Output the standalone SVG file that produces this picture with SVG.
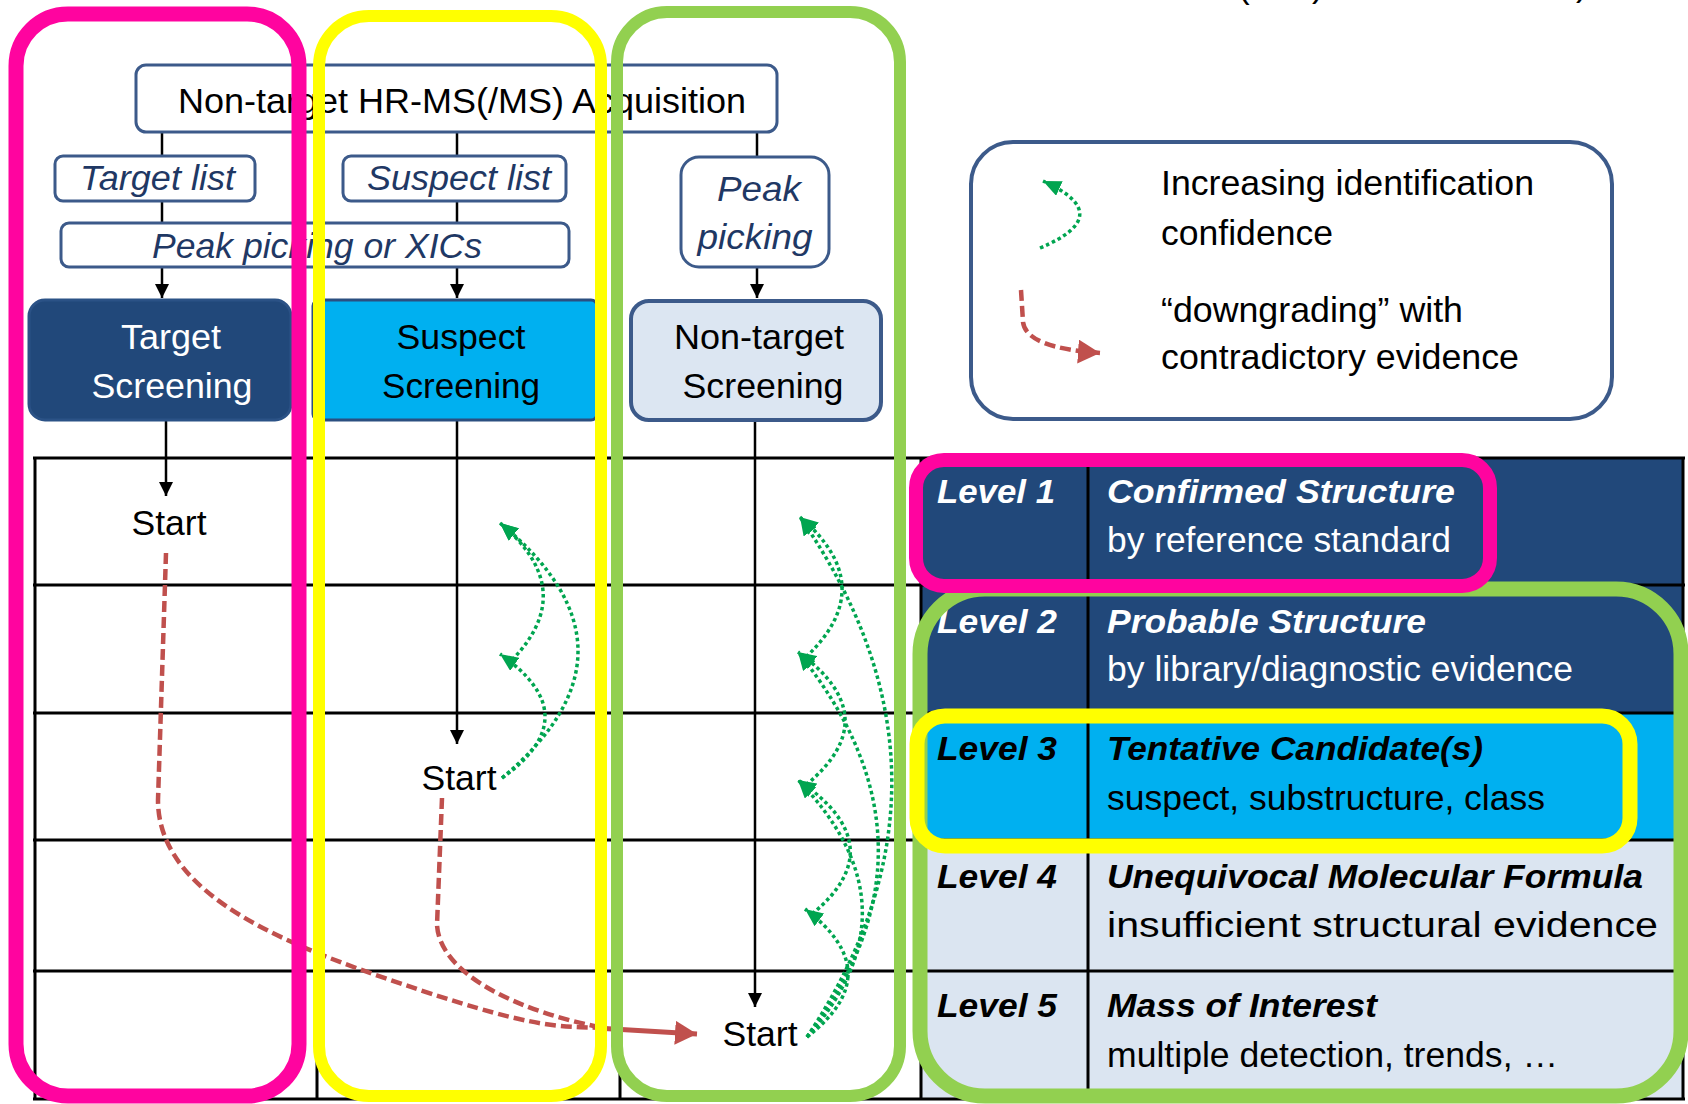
<svg xmlns="http://www.w3.org/2000/svg" width="1688" height="1104" viewBox="0 0 1688 1104">
<defs>
<style>
text { font-family: "Liberation Sans", Arial, Helvetica, sans-serif; font-size: 35px; }
.it { font-style: italic; fill: #1f3864; }
.bi { font-style: italic; font-weight: bold; font-size: 34px; }
.w { fill: #ffffff; }
.k { fill: #000000; }
.box { fill: #ffffff; stroke: #3c5a8a; stroke-width: 3; }
.grid { stroke: #000; stroke-width: 3; fill: none; }
.blk { stroke: #000; stroke-width: 2.5; fill: none; }
.grn { stroke: #00a550; stroke-width: 3.5; stroke-dasharray: 3.5 3; fill: none; }
.red { stroke: #c0504d; stroke-width: 4.5; stroke-dasharray: 11 5; fill: none; }
.hl { fill: none; }
</style>
<marker id="ahK" markerUnits="userSpaceOnUse" markerWidth="14" markerHeight="14" viewBox="0 0 14 14" refX="14" refY="7" orient="auto"><path d="M0,0 L14,7 L0,14 z" fill="#000"/></marker>
<marker id="ahG" markerUnits="userSpaceOnUse" markerWidth="18" markerHeight="16" viewBox="0 0 18 16" refX="18" refY="8" orient="auto"><path d="M0,0 L18,8 L0,16 z" fill="#00a550"/></marker>
<marker id="ahR" markerUnits="userSpaceOnUse" markerWidth="22" markerHeight="24" viewBox="0 0 22 24" refX="22" refY="12" orient="auto"><path d="M0,0 L22,12 L0,24 z" fill="#c0504d"/></marker>
</defs>
<rect x="0" y="0" width="1688" height="1104" fill="#ffffff"/>

<g id="top-cut" class="k">
<text x="1238" y="-2" font-size="40">(</text>
<text x="1312" y="-3" font-size="40">)</text>
<text x="1576" y="-4" font-size="40">)</text>
</g>

<g id="table">
<rect x="921" y="458" width="762" height="255" fill="#21487a"/>
<rect x="921" y="713" width="762" height="127" fill="#00b0f0"/>
<rect x="921" y="840" width="762" height="259" fill="#dbe5f1"/>
<path class="grid" d="M33,458 H1685 M33,585 H1685 M33,713 H1685 M33,840 H1685 M33,971 H1685 M33,1099 H1685 M35,458 V1099 M317,458 V1099 M620,458 V1099 M921,458 V1099 M1088,458 V1099 M1683,458 V1099"/>
</g>

<g id="connectors">
<path class="blk" d="M162,133 V298" marker-end="url(#ahK)"/>
<path class="blk" d="M457,133 V298" marker-end="url(#ahK)"/>
<path class="blk" d="M757,133 V298" marker-end="url(#ahK)"/>
<path class="blk" d="M166,420 V496" marker-end="url(#ahK)"/>
<path class="blk" d="M457,420 V744" marker-end="url(#ahK)"/>
<path class="blk" d="M755,421 V1007" marker-end="url(#ahK)"/>
<path class="grn" d="M502,778 Q655,650 500,523" marker-end="url(#ahG)"/>
<path class="grn" d="M502,778 Q589,716 500,654" marker-end="url(#ahG)"/>
<path class="grn" d="M512,660 Q580,590 500,523" marker-end="url(#ahG)"/>
<path class="grn" d="M807,1037 Q890,973 805,909" marker-end="url(#ahG)"/>
<path class="grn" d="M812,914 Q895,846 798,780" marker-end="url(#ahG)"/>
<path class="grn" d="M806,785 Q888,717 798,652" marker-end="url(#ahG)"/>
<path class="grn" d="M806,657 Q881,586 800,517" marker-end="url(#ahG)"/>
<path class="grn" d="M807,1037 Q980,777 800,517" marker-end="url(#ahG)"/>
<path class="grn" d="M807,1037 Q954,845 798,652" marker-end="url(#ahG)"/>
<path class="grn" d="M807,1037 Q922,908 798,780" marker-end="url(#ahG)"/>
<path class="red" d="M166,553 L158,800 C158,900 300,950 420,990 S560,1026 604,1028"/>
<path class="red" d="M442,798 L437,925 C440,975 520,1012 604,1028"/>
<path d="M596,1028 L697,1034" stroke="#c0504d" stroke-width="5" fill="none" marker-end="url(#ahR)"/>
</g>

<g id="node-acquisition">
<rect x="136" y="65" width="641" height="67" rx="10" class="box" stroke-width="3.5"/>
<text x="178" y="113" class="k" textLength="568" lengthAdjust="spacingAndGlyphs">Non-target HR-MS(/MS) Acquisition</text>
</g>
<g id="node-target-list">
<rect x="55" y="156" width="200" height="45" rx="8" class="box"/>
<text x="80" y="190" class="it" textLength="155" lengthAdjust="spacingAndGlyphs">Target list</text>
</g>
<g id="node-suspect-list">
<rect x="343" y="156" width="223" height="45" rx="8" class="box"/>
<text x="367" y="190" class="it" textLength="184" lengthAdjust="spacingAndGlyphs">Suspect list</text>
</g>
<g id="node-peak-xics">
<rect x="61" y="223" width="508" height="44" rx="8" class="box"/>
<text x="152" y="258" class="it" textLength="330" lengthAdjust="spacingAndGlyphs">Peak picking or XICs</text>
</g>
<g id="node-peak-picking">
<rect x="681" y="157" width="148" height="110" rx="18" class="box" stroke="#5b74a3"/>
<text x="759" y="201" class="it" text-anchor="middle" textLength="84" lengthAdjust="spacingAndGlyphs">Peak</text>
<text x="755" y="249" class="it" text-anchor="middle" textLength="115" lengthAdjust="spacingAndGlyphs">picking</text>
</g>

<g id="node-target-screening">
<rect x="29" y="300" width="262" height="120" rx="16" fill="#21487a" stroke="#2b5286" stroke-width="3"/>
<text x="171" y="349" class="w" text-anchor="middle" textLength="100" lengthAdjust="spacingAndGlyphs">Target</text>
<text x="172" y="398" class="w" text-anchor="middle" textLength="161" lengthAdjust="spacingAndGlyphs">Screening</text>
</g>
<g id="node-suspect-screening">
<rect x="313" y="300" width="284" height="120" rx="6" fill="#00b0f0" stroke="#2b4f80" stroke-width="3"/>
<text x="461" y="349" class="k" text-anchor="middle" textLength="129" lengthAdjust="spacingAndGlyphs">Suspect</text>
<text x="461" y="398" class="k" text-anchor="middle" textLength="158" lengthAdjust="spacingAndGlyphs">Screening</text>
</g>
<g id="node-nontarget-screening">
<rect x="631" y="301" width="250" height="119" rx="18" fill="#dce6f2" stroke="#3c5a8a" stroke-width="4"/>
<text x="759" y="349" class="k" text-anchor="middle" textLength="170" lengthAdjust="spacingAndGlyphs">Non-target</text>
<text x="763" y="398" class="k" text-anchor="middle" textLength="161" lengthAdjust="spacingAndGlyphs">Screening</text>
</g>

<g id="node-start-target"><text x="169" y="535" class="k" text-anchor="middle" textLength="75" lengthAdjust="spacingAndGlyphs">Start</text></g>
<g id="node-start-suspect"><text x="459" y="790" class="k" text-anchor="middle" textLength="75" lengthAdjust="spacingAndGlyphs">Start</text></g>
<g id="node-start-nontarget"><text x="760" y="1046" class="k" text-anchor="middle" textLength="75" lengthAdjust="spacingAndGlyphs">Start</text></g>

<g id="node-legend">
<rect x="971" y="142" width="641" height="277" rx="42" fill="#ffffff" stroke="#3c5a8a" stroke-width="4"/>
<path class="grn" d="M1040,248 Q1118,215 1043,181" marker-end="url(#ahG)"/>
<path class="red" d="M1021,290 L1023,322 Q1026,348 1100,353" marker-end="url(#ahR)"/>
<text x="1161" y="195" class="k" textLength="373" lengthAdjust="spacingAndGlyphs">Increasing identification</text>
<text x="1161" y="245" class="k" textLength="172" lengthAdjust="spacingAndGlyphs">confidence</text>
<text x="1161" y="322" class="k" textLength="302" lengthAdjust="spacingAndGlyphs">“downgrading” with</text>
<text x="1161" y="369" class="k" textLength="358" lengthAdjust="spacingAndGlyphs">contradictory evidence</text>
</g>

<g id="node-level1">
<text x="937" y="503" class="bi w" textLength="118" lengthAdjust="spacingAndGlyphs">Level 1</text>
<text x="1107" y="503" class="bi w" textLength="348" lengthAdjust="spacingAndGlyphs">Confirmed Structure</text>
<text x="1107" y="552" class="w" textLength="344" lengthAdjust="spacingAndGlyphs">by reference standard</text>
</g>
<g id="node-level2">
<text x="937" y="633" class="bi w" textLength="120" lengthAdjust="spacingAndGlyphs">Level 2</text>
<text x="1107" y="633" class="bi w" textLength="319" lengthAdjust="spacingAndGlyphs">Probable Structure</text>
<text x="1107" y="681" class="w" textLength="466" lengthAdjust="spacingAndGlyphs">by library/diagnostic evidence</text>
</g>
<g id="node-level3">
<text x="937" y="760" class="bi k" textLength="120" lengthAdjust="spacingAndGlyphs">Level 3</text>
<text x="1107" y="760" class="bi k" textLength="376" lengthAdjust="spacingAndGlyphs">Tentative Candidate(s)</text>
<text x="1107" y="810" class="k" textLength="438" lengthAdjust="spacingAndGlyphs">suspect, substructure, class</text>
</g>
<g id="node-level4">
<text x="937" y="888" class="bi k" textLength="120" lengthAdjust="spacingAndGlyphs">Level 4</text>
<text x="1107" y="888" class="bi k" textLength="536" lengthAdjust="spacingAndGlyphs">Unequivocal Molecular Formula</text>
<text x="1107" y="937" class="k" font-size="38" textLength="551" lengthAdjust="spacingAndGlyphs">insufficient structural evidence</text>
</g>
<g id="node-level5">
<text x="937" y="1017" class="bi k" textLength="120" lengthAdjust="spacingAndGlyphs">Level 5</text>
<text x="1107" y="1017" class="bi k" textLength="270" lengthAdjust="spacingAndGlyphs">Mass of Interest</text>
<text x="1107" y="1067" class="k" textLength="451" lengthAdjust="spacingAndGlyphs">multiple detection, trends, …</text>
</g>

<g id="highlights">
<rect x="16" y="14" width="283" height="1082" rx="52" class="hl" stroke="#ff049f" stroke-width="15"/>
<rect x="319" y="16" width="282" height="1080" rx="50" class="hl" stroke="#ffff00" stroke-width="12"/>
<rect x="617" y="12" width="283" height="1084" rx="50" class="hl" stroke="#92d050" stroke-width="12"/>
<rect x="920" y="589" width="761" height="507" rx="65" class="hl" stroke="#92d050" stroke-width="15"/>
<rect x="917" y="716" width="713" height="130" rx="28" class="hl" stroke="#ffff00" stroke-width="15"/>
<rect x="916" y="460" width="574" height="126" rx="28" class="hl" stroke="#ff049f" stroke-width="14"/>
</g>
</svg>
